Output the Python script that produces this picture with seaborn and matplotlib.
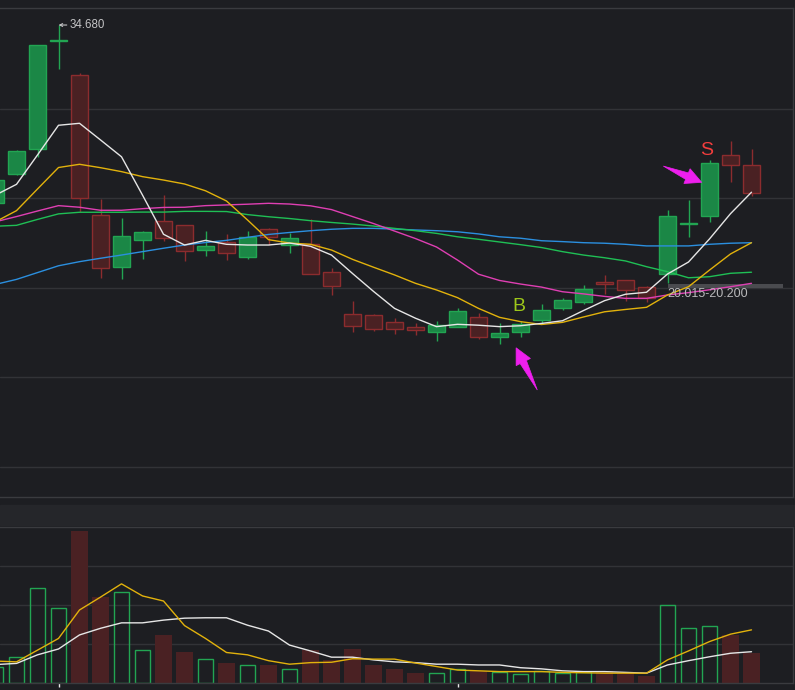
import matplotlib
matplotlib.use("Agg")
import matplotlib.pyplot as plt
from matplotlib.patches import Polygon
import numpy as np
import pandas as pd
import seaborn as sns

# ---------------- data ----------------
opens = [24.74, 26.36, 27.74, 33.78, 31.89, 24.07, 21.18, 22.69, 23.73, 23.49, 22.11, 22.58, 21.74,
         23.27, 22.37, 22.45, 20.87, 18.52, 18.46, 18.09, 17.79, 17.51, 17.79, 18.35, 17.27, 17.55,
         18.20, 18.89, 19.22, 20.32, 20.42, 20.03, 20.75, 23.55, 23.99, 27.42, 26.84]
closes = [26.02, 27.64, 33.56, 33.80, 25.00, 21.12, 22.89, 23.12, 22.77, 22.08, 22.34, 21.93, 22.82,
          22.82, 22.77, 20.75, 20.12, 17.88, 17.72, 17.72, 17.66, 17.91, 18.70, 17.27, 17.46, 17.96,
          18.76, 19.30, 19.92, 20.21, 19.89, 19.45, 23.99, 23.58, 26.96, 26.84, 25.28]
highs = [26.13, 27.72, 33.56, 34.68, 32.02, 24.96, 23.92, 23.19, 25.18, 23.51, 23.17, 23.01, 23.17,
         23.36, 23.04, 23.84, 21.11, 19.26, 18.54, 18.30, 18.02, 18.15, 18.87, 18.59, 18.02, 18.13,
         19.09, 19.43, 20.16, 20.70, 20.42, 20.12, 24.35, 24.91, 27.12, 28.20, 27.75]
lows = [24.63, 26.30, 27.29, 32.22, 24.23, 20.56, 20.49, 21.61, 22.63, 21.51, 21.78, 21.55, 21.61,
        22.39, 21.96, 20.75, 19.61, 17.55, 17.60, 17.44, 17.38, 17.04, 17.79, 17.14, 16.88, 17.27,
        17.96, 18.76, 19.09, 19.65, 19.28, 19.19, 20.28, 22.82, 23.66, 25.93, 25.15]
volumes = [0.41, 0.67, 2.44, 1.92, 3.91, 2.21, 2.33, 0.85, 1.24, 0.80, 0.62, 0.52, 0.46, 0.47, 0.36,
           0.85, 0.60, 0.88, 0.47, 0.37, 0.27, 0.26, 0.36, 0.32, 0.28, 0.23, 0.31, 0.27, 0.28, 0.31,
           0.26, 0.19, 2.00, 1.41, 1.46, 1.24, 0.78]

ma5 = [25.18, 25.78, 27.42, 29.08, 29.19, 28.26, 27.32, 25.18, 22.99, 22.39, 22.65, 22.43, 22.39,
       22.39, 22.50, 22.32, 21.83, 20.80, 19.80, 18.85, 18.30, 17.83, 17.96, 17.91, 17.83, 17.88,
       18.01, 18.16, 18.73, 19.28, 19.64, 19.75, 20.77, 21.44, 22.73, 24.14, 25.34]
ma10 = [23.69, 24.31, 25.52, 26.72, 26.90, 26.71, 26.49, 26.21, 26.02, 25.80, 25.42, 24.85, 23.79,
        22.69, 22.50, 22.43, 22.11, 21.59, 21.15, 20.72, 20.25, 19.88, 19.45, 18.85, 18.35, 18.11,
        17.95, 18.07, 18.37, 18.66, 18.79, 18.91, 19.60, 20.06, 20.99, 21.89, 22.52]
ma20 = [23.69, 23.98, 24.29, 24.59, 24.50, 24.33, 24.33, 24.42, 24.49, 24.50, 24.59, 24.63, 24.67,
        24.72, 24.68, 24.58, 24.37, 23.98, 23.59, 23.17, 22.75, 22.28, 21.55, 20.76, 20.41, 20.21,
        20.04, 19.78, 19.66, 19.52, 19.41, 19.41, 19.60, 19.73, 19.89, 20.06, 20.25]
ma30 = [23.44, 23.49, 23.82, 24.13, 24.22, 24.22, 24.22, 24.23, 24.23, 24.27, 24.27, 24.26, 24.09,
        23.97, 23.87, 23.75, 23.65, 23.56, 23.45, 23.32, 23.19, 23.04, 22.85, 22.71, 22.56, 22.41,
        22.25, 22.02, 21.83, 21.68, 21.50, 21.18, 20.90, 20.56, 20.62, 20.81, 20.87]
ma60 = [20.19, 20.47, 20.85, 21.23, 21.46, 21.65, 21.83, 22.02, 22.21, 22.39, 22.53, 22.65, 22.82,
        22.98, 23.09, 23.19, 23.27, 23.32, 23.32, 23.28, 23.23, 23.19, 23.13, 23.01, 22.85, 22.77,
        22.63, 22.58, 22.52, 22.49, 22.43, 22.34, 22.34, 22.34, 22.43, 22.49, 22.52]
vol_ma5 = [0.57, 0.55, 0.85, 1.15, 1.88, 2.21, 2.55, 2.24, 2.11, 1.48, 1.15, 0.79, 0.73, 0.58, 0.49,
           0.53, 0.54, 0.63, 0.62, 0.62, 0.52, 0.43, 0.34, 0.32, 0.30, 0.30, 0.30, 0.28, 0.27, 0.26,
           0.26, 0.26, 0.60, 0.83, 1.07, 1.26, 1.37]
vol_ma10 = [0.48, 0.51, 0.73, 0.88, 1.24, 1.41, 1.55, 1.55, 1.62, 1.67, 1.68, 1.68, 1.49, 1.34, 0.98,
            0.83, 0.67, 0.67, 0.60, 0.55, 0.53, 0.49, 0.49, 0.47, 0.47, 0.40, 0.37, 0.32, 0.30, 0.30,
            0.28, 0.26, 0.47, 0.58, 0.68, 0.77, 0.81]

high_label_idx = 3
buy_idx = 25
sell_idx = 34
zone_low, zone_high = 20.015, 20.200
zone_start_idx = 32
month_tick_idx = [3, 22]

# ---------------- style ----------------
BG = "#1d1e22"
GRID = "#323337"
BORDER = "#3a3b3f"
UP = "#1b8746"
UP_EDGE = "#22a552"
DOWN = "#4a2123"
DOWN_EDGE = "#8c2c2e"
ARROW = "#ee1fee"

sns.set_theme(style="dark", rc={"axes.facecolor": BG, "figure.facecolor": BG})
plt.rcParams["font.family"] = ["Liberation Sans", "DejaVu Sans"]

W, H = 795, 690
fig = plt.figure(figsize=(W / 100, H / 100), dpi=100)

# separator band between the panels
fig.patches.append(plt.Rectangle((0, 1 - 525 / H), 1, 20 / H, transform=fig.transFigure,
                                 color="#25262a", zorder=0))

ax = fig.add_axes([0, 1 - 497 / H, 793 / W, (497 - 8) / H])
axv = fig.add_axes([0, 1 - 683.3 / H, 793 / W, (683.3 - 527.3) / H])

idx = np.arange(len(opens))
o = np.array(opens); c = np.array(closes); hi = np.array(highs); lo = np.array(lows)
up = c >= o

df = pd.DataFrame({"i": idx, "ma5": ma5, "ma10": ma10, "ma20": ma20, "ma30": ma30, "ma60": ma60,
                   "vol": volumes, "vma5": vol_ma5, "vma10": vol_ma10})

# ---------------- price panel ----------------
ax.set_xlim(4.5 / 21, 797.5 / 21)
ax.set_ylim(8.313, 35.631)

wick_col = np.where(up, UP_EDGE, DOWN_EDGE)
ax.vlines(idx, lo, hi, colors=wick_col, linewidth=1.0, zorder=2)
body_bottom = np.minimum(o, c)
body_h = np.maximum(np.abs(c - o), 0.09)
ax.bar(idx, body_h, bottom=body_bottom, width=0.8,
       color=np.where(up, UP, DOWN), edgecolor=np.where(up, UP_EDGE, DOWN_EDGE),
       linewidth=1.0, zorder=3)

for col, colr in [("ma60", "#2b8fdf"), ("ma30", "#1fbf55"), ("ma20", "#df3fb3"),
                  ("ma10", "#e2b20c"), ("ma5", "#e6e6e6")]:
    sns.lineplot(data=df, x="i", y=col, ax=ax, color=colr, linewidth=1.0, zorder=4)

# price zone marker
ax.fill_between([zone_start_idx, 37.5], zone_low, zone_high, color="#4a4b4f", zorder=1, linewidth=0)
ax.annotate(f"{zone_low:.3f}-{zone_high:.3f}", xy=(zone_start_idx, zone_low),
            xytext=(0, -5), textcoords="offset points", ha="left", va="center",
            fontsize=9, color="#b9b9bb", zorder=6)

# highest price label
ax.annotate(f"{max(highs):.3f}", xy=(high_label_idx, max(highs)), xytext=(8.3, 0),
            textcoords="offset points", ha="left", va="center", fontsize=8.3, color="#c4c4c6",
            arrowprops=dict(arrowstyle="->,head_length=0.25,head_width=0.12", color="#c4c4c6",
                            lw=0.8, shrinkA=0, shrinkB=0), zorder=6)

# buy / sell marks
ax.text(buy_idx - 0.07, highs[buy_idx] + 0.81, "B", color="#9dc71a", fontsize=14,
        ha="center", va="center", zorder=6)
ax.text(sell_idx - 0.13, highs[sell_idx] + 0.54, "S", color="#f23d3d", fontsize=14,
        ha="center", va="center", zorder=6)


def fat_arrow(axis, tail, tip, color, head_len=16.0, head_w=16.0, tail_w=7.0):
    """Tapered arrow (pointed tail, wide head), sized in pixels."""
    T = axis.transData.transform(tail)
    P = axis.transData.transform(tip)
    d = P - T
    u = d / np.hypot(*d)
    n = np.array([-u[1], u[0]])
    B = P - u * head_len
    pts = np.array([T, B + n * tail_w / 2, B + n * head_w / 2, P,
                    B - n * head_w / 2, B - n * tail_w / 2])
    axis.add_patch(Polygon(axis.transData.inverted().transform(pts), closed=True,
                           facecolor=color, edgecolor=color, lw=0.5, zorder=7))


fat_arrow(ax, (sell_idx - 2.20, 26.80), (sell_idx - 0.37, 25.89), ARROW)
fat_arrow(ax, (buy_idx + 0.80, 14.29), (buy_idx - 0.21, 16.65), ARROW)

ax.set_yticks([10, 15, 20, 25, 30])
ax.set_xticks([])
ax.grid(axis="y", color=GRID, linewidth=1.0)
ax.grid(axis="x", visible=False)
ax.tick_params(length=0, labelleft=False, labelbottom=False)
ax.set_xlabel(""); ax.set_ylabel("")
for s in ["top", "bottom", "right"]:
    ax.spines[s].set_visible(True)
    ax.spines[s].set_color(BORDER)
    ax.spines[s].set_linewidth(1.0)
ax.spines["left"].set_visible(False)
ax.set_xlim(4.5 / 21, 797.5 / 21)
ax.set_ylim(8.313, 35.631)

# ---------------- volume panel ----------------
v = np.array(volumes)
axv.bar(idx[~up], v[~up], width=0.78, color=DOWN, linewidth=0, zorder=2)
axv.bar(idx[up], v[up], width=0.74, facecolor="none", edgecolor=UP_EDGE, linewidth=1.0, zorder=2)
sns.lineplot(data=df, x="i", y="vma10", ax=axv, color="#e6e6e6", linewidth=1.0, zorder=4)
sns.lineplot(data=df, x="i", y="vma5", ax=axv, color="#e2b20c", linewidth=1.0, zorder=4)

axv.set_xlim(4.5 / 21, 797.5 / 21)
axv.set_ylim(0, 4)
axv.set_yticks([1, 2, 3])
axv.set_xticks(month_tick_idx)
axv.grid(axis="y", color=GRID, linewidth=1.0)
axv.grid(axis="x", visible=False)
axv.tick_params(axis="y", length=0, labelleft=False)
axv.tick_params(axis="x", length=2.6, width=1.0, color="#e8e8e8", direction="out",
                labelbottom=False, bottom=True)
axv.set_xlabel(""); axv.set_ylabel("")
for s in ["top", "bottom", "right"]:
    axv.spines[s].set_visible(True)
    axv.spines[s].set_color(BORDER)
    axv.spines[s].set_linewidth(1.0)
axv.spines["left"].set_visible(False)

fig.savefig("out.png", dpi=100, facecolor=BG)
